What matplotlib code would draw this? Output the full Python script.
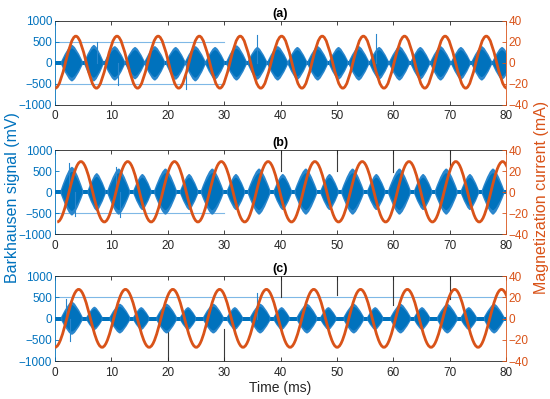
import matplotlib.pyplot as plt
import numpy as np
from matplotlib.path import Path
from matplotlib.patches import PathPatch

plt.rcParams['font.family'] = ['Liberation Sans', 'DejaVu Sans']

BLUE = '#0072BD'
LIGHT = '#2a86cc'
ORANGE = '#D95319'
DARK = '#262626'

# magnetization current: extrema (ms, mA)
cur_t_a = [0.05, 3.7, 7.35, 11.0, 14.65, 18.3, 21.95, 25.6, 29.25, 32.85, 36.5,
           40.2, 43.8, 47.4, 51.05, 54.7, 58.35, 62.0, 65.6, 69.2, 72.85, 76.5, 80.15]
cur_v_a = [-24, 25.5, -24, 25.5, -24, 25.5, -24, 25.5, -24, 25.5, -24,
           25.5, -24, 25.5, -24, 25.5, -24, 25.5, -24, 25.5, -24, 25.5, -24]
cur_t_b = [0.4, 4.6, 8.75, 12.9, 17.05, 21.2, 25.35, 29.5, 33.65, 37.8,
           41.95, 46.1, 50.3, 54.5, 58.65, 62.8, 66.95, 71.1, 75.25, 79.4, 83.5]
cur_v_b = [-28.5, 29, -28.5, 29, -28.5, 29, -28.5, 29, -28.5, 29,
           -28.5, 29, -28.5, 29, -28.5, 29, -28.5, 29, -28.5, 29, -28.5]
cur_t_c = [0.0, 4.2, 8.35, 12.5, 16.7, 20.9, 25.05, 29.2, 33.35, 37.5,
           41.7, 45.9, 50.05, 54.2, 58.35, 62.5, 66.7, 70.9, 75.05, 79.2, 83.4]
cur_v_c = [-27, 27.5, -27, 27.5, -27, 27.5, -27, 27.5, -27, 27.5,
           -27, 27.5, -27, 27.5, -27, 27.5, -27, 27.5, -27, 27.5, -27]

# Barkhausen bursts: centre (ms), half width (ms), top / bottom (mV)
bc_a = [3.0, 6.9, 10.6, 14.2, 17.7, 21.4, 24.9, 28.4, 32.2, 35.9, 39.5,
        43.0, 46.6, 50.3, 53.9, 57.5, 61.1, 64.8, 68.4, 72.0, 75.7, 79.3]
bw_a = [1.9, 1.7, 1.8, 1.7, 1.8, 1.7, 1.8, 1.7, 1.8, 1.7, 1.8,
        1.7, 1.8, 1.7, 1.8, 1.7, 1.8, 1.7, 1.8, 1.7, 1.8, 1.7]
bt_a = [430, 430, 400, 380, 400, 380, 400, 380, 420, 380, 400,
        380, 400, 380, 400, 380, 400, 380, 400, 380, 400, 380]
bb_a = [-440, -440, -420, -390, -420, -400, -440, -400, -420, -400, -420,
        -400, -420, -400, -420, -400, -420, -400, -420, -400, -420, -400]

bc_b = [3.0, 7.4, 11.3, 15.5, 19.6, 23.8, 27.9, 32.1, 36.2, 40.4,
        44.5, 48.7, 52.8, 57.0, 61.1, 65.3, 69.4, 73.6, 77.7]
bw_b = [2.0, 1.6, 2.0, 1.6, 2.0, 1.6, 2.0, 1.6, 2.0, 1.6,
        2.0, 1.6, 2.0, 1.6, 2.0, 1.6, 2.0, 1.6, 2.0]
bt_b = [600, 450, 560, 430, 560, 430, 560, 430, 560, 430,
        560, 430, 560, 430, 560, 430, 560, 430, 560]
bb_b = [-560, -450, -540, -430, -540, -430, -540, -430, -540, -430,
        -540, -430, -540, -430, -540, -430, -540, -430, -540]

bc_c = [3.0, 7.0, 11.5, 15.3, 19.8, 23.6, 28.1, 31.9, 36.4, 40.2,
        44.7, 48.5, 53.0, 56.8, 61.3, 65.1, 69.6, 73.4, 77.9]
bw_c = [1.9, 1.4, 1.8, 1.4, 1.8, 1.4, 1.8, 1.4, 1.8, 1.4,
        1.8, 1.4, 1.8, 1.4, 1.8, 1.4, 1.8, 1.4, 1.8]
bt_c = [400, 280, 350, 270, 350, 270, 350, 270, 350, 270,
        350, 270, 350, 270, 350, 270, 350, 270, 350]
bb_c = [-380, -270, -350, -270, -350, -270, -350, -270, -350, -270,
        -350, -270, -350, -270, -350, -270, -350, -270, -350]

# isolated spikes (ms, mV)
sp_a = [(7.4, 500), (11.2, -530), (23.2, -610), (35.9, 660), (57.0, 700)]
sp_b = [(2.5, 700), (3.5, -560), (10.8, 600), (11.6, -600)]
sp_c = [(2.0, 450), (2.6, -520), (35.8, 600)]

baseline = 45  # mV, noise floor between bursts

# stray light-blue lines (mV, from, to) and dark vertical lines (ms, from, to)
hl_a = [(500, 0, 30), (-500, 0, 30)]
hl_b = [(-500, 0, 30)]
hl_c = [(500, 0, 80)]
vl_a = []
vl_b = [(40, 500, 1000), (50, 500, 1000), (60, 480, 1000), (70, 500, 1000)]
vl_c = [(40, 510, 1000), (50, 550, 1000), (60, 320, 1000), (70, 470, 1000),
        (20, -1000, -300), (30, -1000, -250)]

panels = [
    ('(a)', cur_t_a, cur_v_a, bc_a, bw_a, bt_a, bb_a, sp_a, hl_a, vl_a),
    ('(b)', cur_t_b, cur_v_b, bc_b, bw_b, bt_b, bb_b, sp_b, hl_b, vl_b),
    ('(c)', cur_t_c, cur_v_c, bc_c, bw_c, bt_c, bb_c, sp_c, hl_c, vl_c),
]
positions = [[0.1, 0.737, 0.82, 0.2105],
             [0.1, 0.4135, 0.82, 0.2105],
             [0.1, 0.095, 0.82, 0.213]]


def current_path(ts, vs):
    # smooth half-wave between consecutive extrema (cubic Bezier)
    k = 1 - 2 / np.pi
    verts = [(ts[0], vs[0])]
    codes = [Path.MOVETO]
    for t0, v0, t1, v1 in zip(ts[:-1], vs[:-1], ts[1:], vs[1:]):
        h = t1 - t0
        verts += [(t0 + k * h, v0), (t1 - k * h, v1), (t1, v1)]
        codes += [Path.CURVE4] * 3
    return Path(verts, codes)


def burst_path(c, w, top, bot, base):
    # spindle-shaped envelope of one burst
    verts = [(c - w, base), (c - 0.3 * w, top), (c, top),
             (c + 0.3 * w, top), (c + w, base),
             (c + w, -base), (c + 0.3 * w, bot), (c, bot),
             (c - 0.3 * w, bot), (c - w, -base), (c - w, base)]
    codes = [Path.MOVETO, Path.CURVE3, Path.CURVE3, Path.CURVE3, Path.CURVE3,
             Path.LINETO, Path.CURVE3, Path.CURVE3, Path.CURVE3, Path.CURVE3,
             Path.CLOSEPOLY]
    return Path(verts, codes)


fig = plt.figure(figsize=(5.5, 3.99), dpi=100)

for pos, (title, ct, cv, bc, bw, bt, bb, sp, hl, vl) in zip(positions, panels):
    ax = fig.add_axes(pos)
    ax2 = ax.twinx()

    for y, x0, x1 in hl:
        ax.plot([x0, x1], [y, y], color='#7fb8e6', lw=0.8, zorder=1)
    for x, y0, y1 in vl:
        ax.plot([x, x], [y0, y1], color='#3a3a3a', lw=0.8, zorder=1)

    ax.fill_between([0, 80], -baseline, baseline, color=BLUE, lw=0, zorder=2)
    for c, w, t, b in zip(bc, bw, bt, bb):
        ax.add_patch(PathPatch(burst_path(c, w, t, b, baseline),
                               facecolor=LIGHT, edgecolor='none', zorder=2))
        ax.add_patch(PathPatch(burst_path(c, 0.9 * w, 0.8 * t, 0.8 * b, baseline),
                               facecolor=BLUE, edgecolor='none', zorder=2))
    for x, y in sp:
        ax.plot([x, x], [0, y], color=LIGHT, lw=0.8, zorder=2)

    ax2.add_patch(PathPatch(current_path(ct, cv), fill=False,
                            edgecolor=ORANGE, lw=2.0))

    ax.set_xlim(0, 80)
    ax.set_ylim(-1000, 1000)
    ax2.set_ylim(-40, 40)
    ax.set_xticks(np.arange(0, 81, 10))
    ax.set_yticks([-1000, -500, 0, 500, 1000])
    ax2.set_yticks([-40, -20, 0, 20, 40])

    ax.tick_params(axis='x', direction='in', top=True, length=3, width=0.6,
                   colors=DARK, labelsize=8.5, pad=4)
    ax.tick_params(axis='y', direction='in', length=3, width=0.6,
                   colors=BLUE, labelsize=8.5, pad=2)
    ax2.tick_params(axis='y', direction='in', length=3, width=0.6,
                    colors=ORANGE, labelsize=8.5, pad=2)

    for s in ['top', 'bottom']:
        ax.spines[s].set_color(DARK)
        ax.spines[s].set_linewidth(0.6)
    ax.spines['left'].set_color(BLUE)
    ax.spines['right'].set_visible(False)
    ax2.spines['right'].set_color(ORANGE)
    for s in ['left', 'top', 'bottom']:
        ax2.spines[s].set_visible(False)
    ax.spines['left'].set_linewidth(0.6)
    ax2.spines['right'].set_linewidth(0.6)

    ax.set_title(title, fontsize=9, fontweight='bold', color='black', pad=3)

fig.text(0.022, 0.505, 'Barkhausen signal (mV)', rotation=90, color=BLUE,
         ha='center', va='center', fontsize=11.5)
fig.text(0.984, 0.505, 'Magnetization current (mA)', rotation=90, color=ORANGE,
         ha='center', va='center', fontsize=11.5)
fig.text(0.51, 0.027, 'Time (ms)', color=DARK, ha='center', va='center',
         fontsize=10)

fig.savefig('out.png', dpi=100)
